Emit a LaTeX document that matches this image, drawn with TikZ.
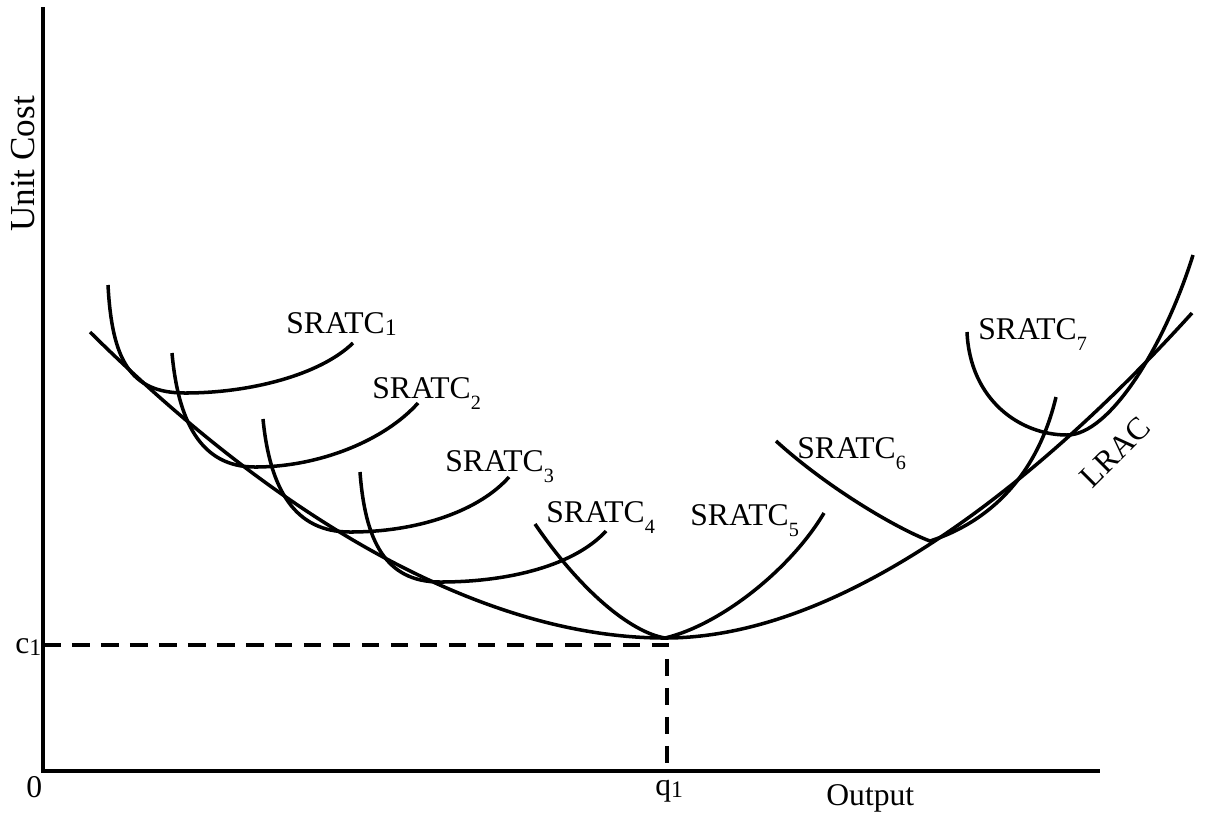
\documentclass[tikz,border=0pt]{standalone}
\usepackage{fontspec}
\setmainfont{Liberation Serif}
\usetikzlibrary{positioning}
\newcommand{\lowsub}[1]{\raisebox{-6.5pt}{\fontsize{11.5}{12}\selectfont #1}}
\newcommand{\onesub}{\raisebox{-1.5pt}{\fontsize{13.5}{14}\selectfont 1}}

\begin{document}
\begin{tikzpicture}[x=0.02cm, y=-0.02cm, every node/.style={font=\fontsize{18}{20}\selectfont, inner sep=0pt}, curve/.style={line width=2pt}, axis/.style={line width=2.2pt}]
\useasboundingbox (0,0) rectangle (1206,816);
\coordinate (o) at (43,771);
\coordinate (top) at (43,7);
\coordinate (right) at (1100,771);
\coordinate (m) at (665,638);
\coordinate (cq) at (667,645);
\draw[axis] (top) -- (o) -- (right);
\draw[axis, dash pattern=on 10pt off 6.5pt] (o |- cq) -- (cq) -- (o -| cq);
\draw[curve] (90,332) .. controls (300,540) and (500,638) .. (m) .. controls (850,638) and (1050,470) .. (1192,313);
\draw[curve] (108,285) .. controls (112,360) and (130,393) .. (185,393) .. controls (250,393) and (320,375) .. (353,343);
\draw[curve] (172,353) .. controls (178,420) and (200,467) .. (255,467) .. controls (320,467) and (385,440) .. (418,403);
\draw[curve] (263,419) .. controls (270,490) and (295,532) .. (350,532) .. controls (420,532) and (480,510) .. (509,477);
\draw[curve] (360,472) .. controls (365,540) and (385,582) .. (440,582) .. controls (510,582) and (575,565) .. (606,531);
\draw[curve] (535,524) .. controls (580,590) and (630,632) .. (m) .. controls (720,625) and (790,570) .. (824,513);
\draw[curve] (776,441) .. controls (830,490) and (900,530) .. (930,541) .. controls (980,525) and (1035,485) .. (1056,397);
\draw[curve] (967,332) .. controls (970,400) and (1020,435) .. (1067,435) .. controls (1110,435) and (1165,345) .. (1193,255);
\node[anchor=base west] (s1) at (286,333) {SRATC\onesub};
\node[anchor=base west] (s2) at (372,398) {SRATC\lowsub{2}};
\node[anchor=base west] (s3) at (445,471) {SRATC\lowsub{3}};
\node[anchor=base west] (s4) at (546,522) {SRATC\lowsub{4}};
\node[anchor=base west] (s5) at (690,525) {SRATC\lowsub{5}};
\node[anchor=base west] (s6) at (797,458) {SRATC\lowsub{6}};
\node[anchor=base west] (s7) at (978,339) {SRATC\lowsub{7}};
\node[rotate=45] (lrac) at (1115,452) {LRAC};
\node[rotate=90, font=\fontsize{20}{22}\selectfont] (ylab) at (23,164) {Unit Cost};
\node[anchor=base west] (xlab) at (826,805) {Output};
\node[anchor=base west] (zero) at (26,797) {0};
\node[anchor=base west] (c1) at (15,653) {c\onesub};
\node[anchor=base west] (q1) at (655,795) {q\onesub};
\end{tikzpicture}
\end{document}
